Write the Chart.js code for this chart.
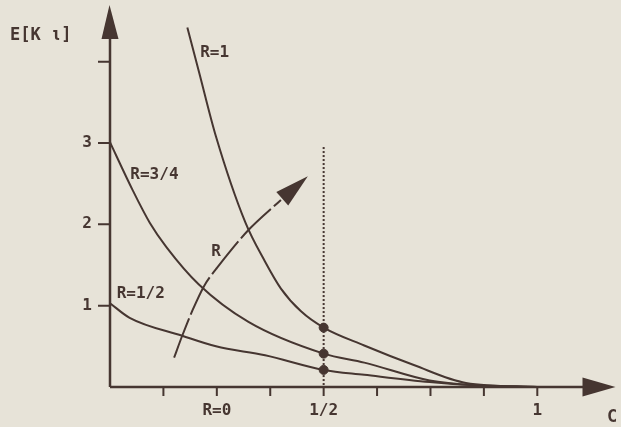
<!DOCTYPE html>
<html>
<head>
<meta charset="utf-8">
<script src="https://cdn.jsdelivr.net/npm/chart.js@4"></script>
<style>
  html, body { margin: 0; padding: 0; background: #e7e3d8; }
  canvas { display: block; }
</style>
</head>
<body>
<canvas id="chart" width="621" height="427"></canvas>
<script>
// curves: C on x, E[K] on y
const cR1 = [0.181, 0.208, 0.248, 0.317, 0.363, 0.400, 0.447, 0.5, 0.595, 0.711, 0.833, 1.0];
const eR1 = [4.42, 3.88, 3.08, 2.02, 1.54, 1.21, 0.93, 0.73, 0.51, 0.27, 0.05, 0.0];

const cR34 = [0, 0.007, 0.053, 0.093, 0.132, 0.208, 0.324, 0.5, 0.595, 0.748, 0.856, 1.0];
const eR34 = [3.01, 2.93, 2.42, 2.02, 1.72, 1.26, 0.80, 0.41, 0.30, 0.08, 0.02, 0.0];

const cR12 = [0, 0.046, 0.169, 0.248, 0.363, 0.5, 0.595, 0.748, 0.856, 1.0];
const eR12 = [1.03, 0.85, 0.63, 0.50, 0.39, 0.21, 0.15, 0.06, 0.02, 0.0];

// marked points at C = 1/2
const dotC = [0.5, 0.5, 0.5];
const dotE = [0.73, 0.41, 0.21];

// the "R" direction arrow
const arrowC = [0.150, 0.169, 0.192, 0.220, 0.248, 0.324, 0.400, 0.463];
const arrowE = [0.36, 0.63, 0.93, 1.24, 1.45, 1.93, 2.30, 2.59];

const xTicks = [0.125, 0.25, 0.375, 0.5, 0.625, 0.75, 0.875, 1];
const xTickLabels = ['', 'R=0', '', '1/2', '', '', '', '1'];
const yTicks = [1, 2, 3, 4];
const yTickLabels = ['1', '2', '3', ''];

const curveLabels = [
  { text: 'R=1', c: 0.245, e: 4.11 },
  { text: 'R=3/4', c: 0.104, e: 2.61 },
  { text: 'R=1/2', c: 0.072, e: 1.14 },
  { text: 'R', c: 0.248, e: 1.66 },
];

const ink = '#463631';
const paper = '#e7e3d8';
const font = 'bold 16px "DejaVu Sans Mono", "Liberation Mono", monospace';

function pairs(xs, ys) {
  return xs.map((x, i) => ({ x, y: ys[i] }));
}

function curve(label, xs, ys) {
  return {
    label,
    data: pairs(xs, ys),
    borderColor: ink,
    borderWidth: 2,
    pointRadius: 0,
    cubicInterpolationMode: 'monotone',
    fill: false,
  };
}

const paperPlugin = {
  id: 'paper',
  beforeDraw(chart) {
    const { ctx, width, height } = chart;
    ctx.save();
    ctx.fillStyle = paper;
    ctx.fillRect(0, 0, width, height);
    ctx.restore();
  },
};

const figurePlugin = {
  id: 'figure',
  afterDatasetsDraw(chart) {
    const { ctx, chartArea } = chart;
    const xs = chart.scales.x;
    const ys = chart.scales.y;
    const x0 = xs.getPixelForValue(0);
    const y0 = ys.getPixelForValue(0);

    ctx.save();
    ctx.strokeStyle = ink;
    ctx.fillStyle = ink;

    // dotted guide at C = 1/2
    ctx.lineWidth = 2;
    ctx.setLineDash([2, 2]);
    ctx.beginPath();
    ctx.moveTo(xs.getPixelForValue(0.5), ys.getPixelForValue(2.95));
    ctx.lineTo(xs.getPixelForValue(0.5), y0);
    ctx.stroke();
    ctx.setLineDash([]);

    // axes
    ctx.lineWidth = 2.5;
    ctx.beginPath();
    ctx.moveTo(x0, y0);
    ctx.lineTo(chartArea.right - 20, y0);
    ctx.moveTo(x0, y0);
    ctx.lineTo(x0, 30);
    ctx.stroke();

    // axis arrowheads
    ctx.beginPath();
    ctx.moveTo(chartArea.right, y0);
    ctx.lineTo(chartArea.right - 33, y0 - 9.5);
    ctx.lineTo(chartArea.right - 33, y0 + 9.5);
    ctx.closePath();
    ctx.fill();
    ctx.beginPath();
    ctx.moveTo(x0 - 0.5, 5);
    ctx.lineTo(x0 - 8.5, 39);
    ctx.lineTo(x0 + 8.5, 39);
    ctx.closePath();
    ctx.fill();

    // ticks
    ctx.lineWidth = 2;
    ctx.font = font;
    ctx.textBaseline = 'middle';
    ctx.beginPath();
    xTicks.forEach((v) => {
      const px = xs.getPixelForValue(v);
      ctx.moveTo(px, y0);
      ctx.lineTo(px, y0 + 9);
    });
    yTicks.forEach((v) => {
      const py = ys.getPixelForValue(v);
      ctx.moveTo(x0, py);
      ctx.lineTo(x0 - 12, py);
    });
    ctx.stroke();

    ctx.textAlign = 'center';
    xTicks.forEach((v, i) => {
      if (xTickLabels[i]) ctx.fillText(xTickLabels[i], xs.getPixelForValue(v), y0 + 24);
    });
    ctx.textAlign = 'right';
    yTicks.forEach((v, i) => {
      if (yTickLabels[i]) ctx.fillText(yTickLabels[i], x0 - 18, ys.getPixelForValue(v));
    });

    // axis titles
    ctx.textAlign = 'left';
    ctx.font = 'bold 17px "DejaVu Sans Mono", "Liberation Mono", monospace';
    ctx.fillText('E[K ι]', 10, 36);
    ctx.fillText('C', 607, 418);

    // curve labels
    ctx.font = font;
    ctx.textAlign = 'center';
    curveLabels.forEach((l) => {
      ctx.fillText(l.text, xs.getPixelForValue(l.c), ys.getPixelForValue(l.e));
    });

    // head of the R arrow
    const n = arrowC.length;
    const tx = xs.getPixelForValue(arrowC[n - 1]);
    const ty = ys.getPixelForValue(arrowE[n - 1]);
    const bx = xs.getPixelForValue(arrowC[n - 2]);
    const by = ys.getPixelForValue(arrowE[n - 2]);
    const ang = Math.atan2(ty - by, tx - bx);
    const len = 34;
    const half = 9;
    const cx = tx - len * Math.cos(ang);
    const cy = ty - len * Math.sin(ang);
    ctx.beginPath();
    ctx.moveTo(tx, ty);
    ctx.lineTo(cx + half * Math.sin(ang), cy - half * Math.cos(ang));
    ctx.lineTo(cx - half * Math.sin(ang), cy + half * Math.cos(ang));
    ctx.closePath();
    ctx.fill();

    ctx.restore();
  },
};

new Chart(document.getElementById('chart'), {
  type: 'line',
  data: {
    datasets: [
      curve('R=1', cR1, eR1),
      curve('R=3/4', cR34, eR34),
      curve('R=1/2', cR12, eR12),
      {
        label: 'R',
        data: pairs(arrowC.slice(0, -1), arrowE.slice(0, -1)),
        borderColor: ink,
        borderWidth: 2,
        borderDash: [42, 4],
        pointRadius: 0,
        tension: 0.3,
        fill: false,
      },
      {
        type: 'scatter',
        label: 'C = 1/2',
        data: pairs(dotC, dotE),
        backgroundColor: ink,
        borderColor: ink,
        pointRadius: 4.5,
      },
    ],
  },
  options: {
    responsive: false,
    animation: false,
    layout: { padding: { left: 110, right: 0, top: 0, bottom: 40 } },
    plugins: { legend: { display: false }, tooltip: { enabled: false } },
    scales: {
      x: { type: 'linear', min: 0, max: 1.183, display: false },
      y: { type: 'linear', min: 0, max: 4.69, display: false },
    },
  },
  plugins: [paperPlugin, figurePlugin],
});
</script>
</body>
</html>
